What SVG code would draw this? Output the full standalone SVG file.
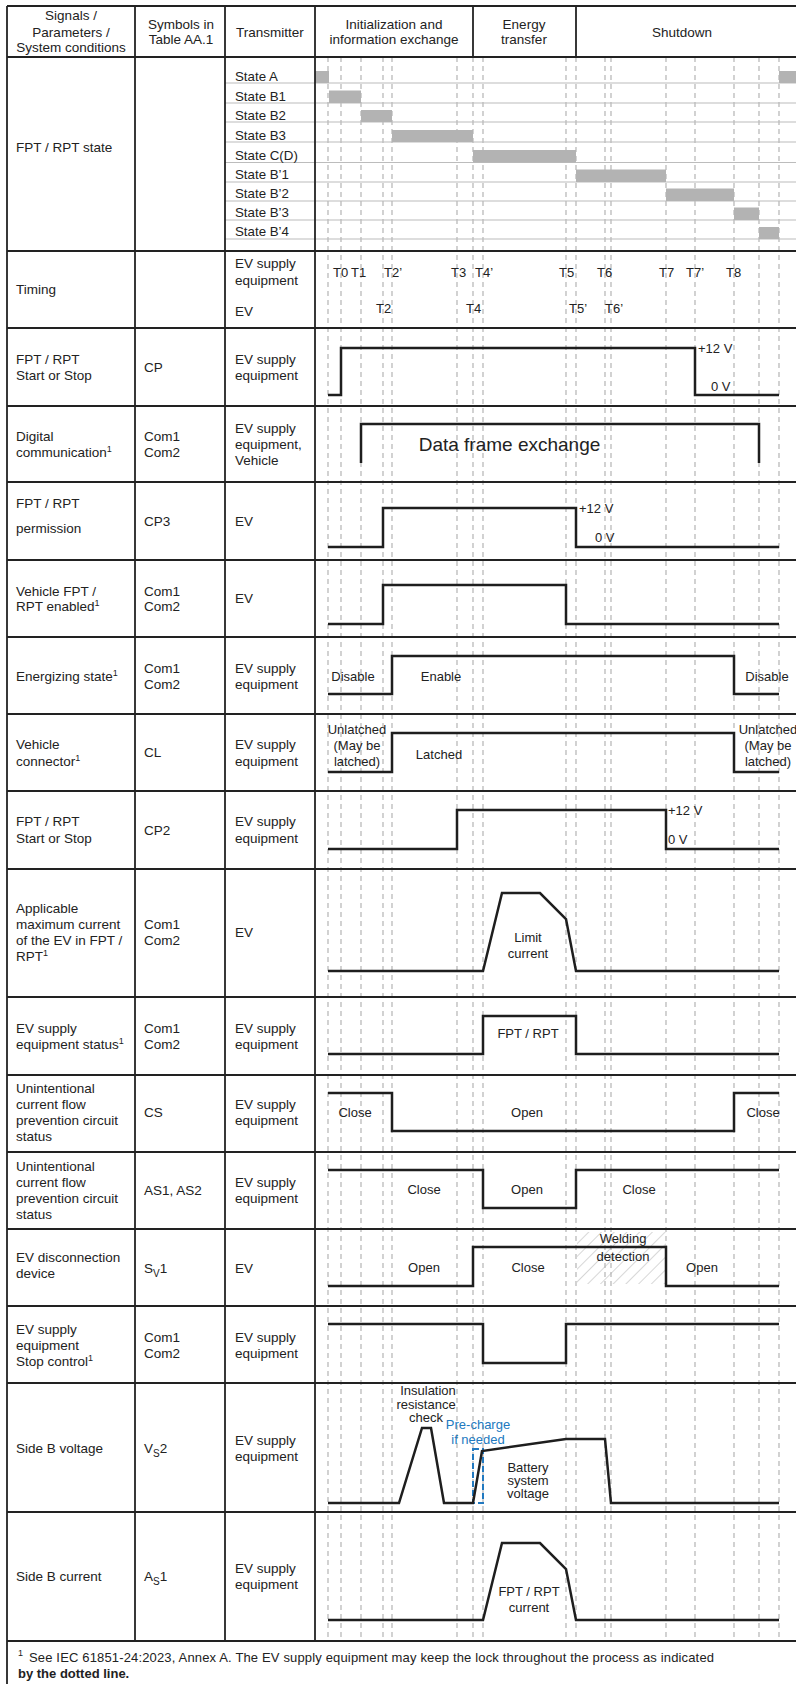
<svg xmlns="http://www.w3.org/2000/svg" width="796" height="1684" viewBox="0 0 796 1684">
<style>
.t{font-family:"Liberation Sans",Arial,sans-serif;font-size:13.5px;fill:#222}
.s{font-size:13.3px}
.m{font-size:13px}
.c{text-anchor:middle}
.grid{stroke:#222;stroke-width:1.8;fill:none}
.sub{stroke:#bcbcbc;stroke-width:1.2}
.dash{stroke:#adadad;stroke-width:1.1;stroke-dasharray:5 4}
.sig{stroke:#1e1e1e;stroke-width:2.5;fill:none;stroke-linejoin:miter}
.bar{fill:#b3b3b3}
.blue{fill:#2179c0}
</style>
<defs>
<pattern id="hatch" patternUnits="userSpaceOnUse" width="9" height="9" patternTransform="rotate(45)">
<line x1="0" y1="0" x2="0" y2="9" stroke="#b0b0b0" stroke-width="1"/>
</pattern>
</defs>
<rect width="796" height="1684" fill="#fff"/>

<!-- dashed time markers -->
<g id="time-markers" class="dash">
<line x1="328" y1="57" x2="328" y2="1641"/>
<line x1="341" y1="57" x2="341" y2="1641"/>
<line x1="361" y1="57" x2="361" y2="1641"/>
<line x1="383" y1="57" x2="383" y2="1641"/>
<line x1="392" y1="57" x2="392" y2="1641"/>
<line x1="457" y1="57" x2="457" y2="1641"/>
<line x1="473" y1="57" x2="473" y2="1641"/>
<line x1="483" y1="57" x2="483" y2="1641"/>
<line x1="566" y1="57" x2="566" y2="1641"/>
<line x1="576" y1="57" x2="576" y2="1641"/>
<line x1="605" y1="57" x2="605" y2="1641"/>
<line x1="611" y1="57" x2="611" y2="1641"/>
<line x1="666" y1="57" x2="666" y2="1641"/>
<line x1="695" y1="57" x2="695" y2="1641"/>
<line x1="734" y1="57" x2="734" y2="1641"/>
<line x1="759" y1="57" x2="759" y2="1641"/>
<line x1="779" y1="57" x2="779" y2="1641"/>
</g>

<!-- state sub rows -->
<g id="state-grid" class="sub">
<line x1="225" y1="83" x2="796" y2="83"/>
<line x1="225" y1="103" x2="796" y2="103"/>
<line x1="225" y1="122" x2="796" y2="122"/>
<line x1="225" y1="142" x2="796" y2="142"/>
<line x1="225" y1="162.5" x2="796" y2="162.5"/>
<line x1="225" y1="182" x2="796" y2="182"/>
<line x1="225" y1="201" x2="796" y2="201"/>
<line x1="225" y1="220" x2="796" y2="220"/>
<line x1="225" y1="239" x2="796" y2="239"/>
</g>
<g id="state-bars" class="bar">
<rect x="315" y="71" width="14" height="12"/>
<rect x="779" y="71" width="17" height="12"/>
<rect x="329" y="90.5" width="32" height="12.5"/>
<rect x="361" y="110" width="31" height="12"/>
<rect x="392" y="130" width="81" height="12"/>
<rect x="473" y="150" width="103" height="12.5"/>
<rect x="576" y="169.5" width="90" height="12.5"/>
<rect x="666" y="188.5" width="68" height="12.5"/>
<rect x="734" y="207.5" width="25" height="12.5"/>
<rect x="759" y="227" width="20" height="12"/>
</g>

<!-- table grid -->
<g id="table" class="grid">
<line x1="7" y1="6" x2="796" y2="6"/>
<line x1="7" y1="6" x2="7" y2="1684"/>
<line x1="135" y1="6" x2="135" y2="1641"/>
<line x1="225" y1="6" x2="225" y2="1641"/>
<line x1="315" y1="6" x2="315" y2="1641"/>
<line x1="473" y1="6" x2="473" y2="57"/>
<line x1="576" y1="6" x2="576" y2="57"/>
<line x1="7" y1="57" x2="796" y2="57"/>
<line x1="7" y1="251" x2="796" y2="251"/>
<line x1="7" y1="328" x2="796" y2="328"/>
<line x1="7" y1="406" x2="796" y2="406"/>
<line x1="7" y1="482" x2="796" y2="482"/>
<line x1="7" y1="560" x2="796" y2="560"/>
<line x1="7" y1="637" x2="796" y2="637"/>
<line x1="7" y1="714" x2="796" y2="714"/>
<line x1="7" y1="791" x2="796" y2="791"/>
<line x1="7" y1="869" x2="796" y2="869"/>
<line x1="7" y1="997" x2="796" y2="997"/>
<line x1="7" y1="1075" x2="796" y2="1075"/>
<line x1="7" y1="1152" x2="796" y2="1152"/>
<line x1="7" y1="1229" x2="796" y2="1229"/>
<line x1="7" y1="1306" x2="796" y2="1306"/>
<line x1="7" y1="1383" x2="796" y2="1383"/>
<line x1="7" y1="1512" x2="796" y2="1512"/>
<line x1="7" y1="1641" x2="796" y2="1641"/>
</g>

<!-- header -->
<g id="header" class="t">
<text class="c" x="71" y="20">Signals /</text>
<text class="c" x="71" y="36.5">Parameters /</text>
<text class="c" x="71" y="52">System conditions</text>
<text class="c" x="181" y="29">Symbols in</text>
<text class="c" x="181" y="44">Table AA.1</text>
<text class="c" x="270" y="36.5">Transmitter</text>
<text class="c" x="394" y="29">Initialization and</text>
<text class="c" x="394" y="44">information exchange</text>
<text class="c" x="524" y="29">Energy</text>
<text class="c" x="524" y="44">transfer</text>
<text class="c" x="682" y="37">Shutdown</text>
</g>

<!-- FPT/RPT state row -->
<g id="row-state" class="t">
<text x="16" y="152">FPT / RPT state</text>
<text class="s" x="235" y="81">State A</text>
<text class="s" x="235" y="100.5">State B1</text>
<text class="s" x="235" y="120">State B2</text>
<text class="s" x="235" y="140">State B3</text>
<text class="s" x="235" y="160">State C(D)</text>
<text class="s" x="235" y="179">State B’1</text>
<text class="s" x="235" y="198">State B’2</text>
<text class="s" x="235" y="216.5">State B’3</text>
<text class="s" x="235" y="235.5">State B’4</text>
</g>

<!-- Timing row -->
<g id="row-timing" class="t">
<text x="16" y="294">Timing</text>
<text x="235" y="268">EV supply</text>
<text x="235" y="285">equipment</text>
<text x="235" y="316">EV</text>
<g class="m">
<text x="333" y="277">T0</text>
<text x="351" y="277">T1</text>
<text x="384" y="277">T2’</text>
<text x="451" y="277">T3</text>
<text x="475" y="277">T4’</text>
<text x="559" y="277">T5</text>
<text x="597" y="277">T6</text>
<text x="659" y="277">T7</text>
<text x="686" y="277">T7’</text>
<text x="726" y="277">T8</text>
<text x="376" y="313">T2</text>
<text x="466" y="313">T4</text>
<text x="569" y="313">T5’</text>
<text x="605" y="313">T6’</text>
</g>
</g>

<!-- CP -->
<g id="row-cp" class="t">
<text x="16" y="364">FPT / RPT</text>
<text x="16" y="380">Start or Stop</text>
<text x="144" y="372">CP</text>
<text x="235" y="364">EV supply</text>
<text x="235" y="380">equipment</text>
<text class="m" x="698" y="353">+12 V</text>
<text class="m" x="711" y="391">0 V</text>
</g>

<!-- Digital communication -->
<g id="row-digital" class="t">
<text x="16" y="441">Digital</text>
<text x="16" y="457">communication<tspan font-size="9" dy="-5">1</tspan></text>
<text x="144" y="441">Com1</text>
<text x="144" y="457">Com2</text>
<text x="235" y="433">EV supply</text>
<text x="235" y="449">equipment,</text>
<text x="235" y="465">Vehicle</text>
<text class="c" x="509.5" y="451" font-size="19">Data frame exchange</text>
</g>

<!-- CP3 -->
<g id="row-cp3" class="t">
<text x="16" y="508">FPT / RPT</text>
<text x="16" y="533">permission</text>
<text x="144" y="526">CP3</text>
<text x="235" y="526">EV</text>
<text class="m" x="579" y="513">+12 V</text>
<text class="m" x="595" y="542">0 V</text>
</g>

<!-- Vehicle enabled -->
<g id="row-enabled" class="t">
<text x="16" y="596">Vehicle FPT /</text>
<text x="16" y="611">RPT enabled<tspan font-size="9" dy="-5">1</tspan></text>
<text x="144" y="596">Com1</text>
<text x="144" y="611">Com2</text>
<text x="235" y="603">EV</text>
</g>

<!-- Energizing -->
<g id="row-energizing" class="t">
<text x="16" y="681">Energizing state<tspan font-size="9" dy="-5">1</tspan></text>
<text x="144" y="673">Com1</text>
<text x="144" y="689">Com2</text>
<text x="235" y="673">EV supply</text>
<text x="235" y="689">equipment</text>
<text class="c m" x="353" y="681">Disable</text>
<text class="c m" x="441" y="681">Enable</text>
<text class="c m" x="767" y="681">Disable</text>
</g>

<!-- Vehicle connector -->
<g id="row-connector" class="t">
<text x="16" y="749">Vehicle</text>
<text x="16" y="766">connector<tspan font-size="9" dy="-5">1</tspan></text>
<text x="144" y="757">CL</text>
<text x="235" y="749">EV supply</text>
<text x="235" y="766">equipment</text>
<text class="c m" x="357" y="734">Unlatched</text>
<text class="c m" x="357" y="750">(May be</text>
<text class="c m" x="357" y="766">latched)</text>
<text class="c m" x="439" y="759">Latched</text>
<text class="c m" x="768" y="734">Unlatched</text>
<text class="c m" x="768" y="750">(May be</text>
<text class="c m" x="768" y="766">latched)</text>
</g>

<!-- CP2 -->
<g id="row-cp2" class="t">
<text x="16" y="826">FPT / RPT</text>
<text x="16" y="843">Start or Stop</text>
<text x="144" y="835">CP2</text>
<text x="235" y="826">EV supply</text>
<text x="235" y="843">equipment</text>
<text class="m" x="668" y="815">+12 V</text>
<text class="m" x="668" y="844">0 V</text>
</g>

<!-- Applicable maximum current -->
<g id="row-maxcurrent" class="t">
<text x="16" y="913">Applicable</text>
<text x="16" y="929">maximum current</text>
<text x="16" y="945">of the EV in FPT /</text>
<text x="16" y="961">RPT<tspan font-size="9" dy="-5">1</tspan></text>
<text x="144" y="929">Com1</text>
<text x="144" y="945">Com2</text>
<text x="235" y="937">EV</text>
<text class="c m" x="528" y="942">Limit</text>
<text class="c m" x="528" y="958">current</text>
</g>

<!-- EVSE status -->
<g id="row-status" class="t">
<text x="16" y="1033">EV supply</text>
<text x="16" y="1049">equipment status<tspan font-size="9" dy="-5">1</tspan></text>
<text x="144" y="1033">Com1</text>
<text x="144" y="1049">Com2</text>
<text x="235" y="1033">EV supply</text>
<text x="235" y="1049">equipment</text>
<text class="c m" x="528" y="1038">FPT / RPT</text>
</g>

<!-- CS -->
<g id="row-cs" class="t">
<text x="16" y="1093">Unintentional</text>
<text x="16" y="1109">current flow</text>
<text x="16" y="1125">prevention circuit</text>
<text x="16" y="1141">status</text>
<text x="144" y="1117">CS</text>
<text x="235" y="1109">EV supply</text>
<text x="235" y="1125">equipment</text>
<text class="c m" x="355" y="1117">Close</text>
<text class="c m" x="527" y="1117">Open</text>
<text class="c m" x="763" y="1117">Close</text>
</g>

<!-- AS1, AS2 -->
<g id="row-as" class="t">
<text x="16" y="1171">Unintentional</text>
<text x="16" y="1187">current flow</text>
<text x="16" y="1203">prevention circuit</text>
<text x="16" y="1219">status</text>
<text x="144" y="1195">AS1, AS2</text>
<text x="235" y="1187">EV supply</text>
<text x="235" y="1203">equipment</text>
<text class="c m" x="424" y="1194">Close</text>
<text class="c m" x="527" y="1194">Open</text>
<text class="c m" x="639" y="1194">Close</text>
</g>

<!-- EV disconnection device -->
<g id="row-sv1" class="t">
<rect x="577" y="1232" width="89" height="52" fill="url(#hatch)"/>
<text x="16" y="1262">EV disconnection</text>
<text x="16" y="1278">device</text>
<text x="144" y="1273">S<tspan font-size="10" dy="4">V</tspan><tspan dy="-4">1</tspan></text>
<text x="235" y="1273">EV</text>
<text class="c m" x="623" y="1243">Welding</text>
<text class="c m" x="623" y="1261">detection</text>
<text class="c m" x="424" y="1272">Open</text>
<text class="c m" x="528" y="1272">Close</text>
<text class="c m" x="702" y="1272">Open</text>
</g>

<!-- Stop control -->
<g id="row-stop" class="t">
<text x="16" y="1334">EV supply</text>
<text x="16" y="1350">equipment</text>
<text x="16" y="1366">Stop control<tspan font-size="9" dy="-5">1</tspan></text>
<text x="144" y="1342">Com1</text>
<text x="144" y="1358">Com2</text>
<text x="235" y="1342">EV supply</text>
<text x="235" y="1358">equipment</text>
</g>

<!-- Side B voltage -->
<g id="row-vs2" class="t">
<text x="16" y="1453">Side B voltage</text>
<text x="144" y="1453">V<tspan font-size="10" dy="4">S</tspan><tspan dy="-4">2</tspan></text>
<text x="235" y="1445">EV supply</text>
<text x="235" y="1461">equipment</text>
<text class="c m" x="428" y="1395">Insulation</text>
<text class="c m" x="426" y="1409">resistance</text>
<text class="c m" x="426" y="1422">check</text>
<text class="c m blue" x="478" y="1429">Pre-charge</text>
<text class="c m blue" x="478" y="1444">if needed</text>
<rect x="473" y="1449" width="10" height="54" fill="none" stroke="#2179c0" stroke-width="2" stroke-dasharray="6 3"/>
<text class="c m" x="528" y="1472">Battery</text>
<text class="c m" x="528" y="1485">system</text>
<text class="c m" x="528" y="1498">voltage</text>
</g>

<!-- Side B current -->
<g id="row-as1" class="t">
<text x="16" y="1581">Side B current</text>
<text x="144" y="1581">A<tspan font-size="10" dy="4">S</tspan><tspan dy="-4">1</tspan></text>
<text x="235" y="1573">EV supply</text>
<text x="235" y="1589">equipment</text>
<text class="c m" x="529" y="1596">FPT / RPT</text>
<text class="c m" x="529" y="1612">current</text>
</g>

<!-- signal waveforms -->
<g id="connectors" class="sig">
<polyline points="328,395 341,395 341,348 695,348 695,395 779,395"/>
<polyline points="361,463 361,424 759,424 759,463"/>
<polyline points="328,547 383,547 383,508 576,508 576,547 779,547"/>
<polyline points="328,624 383,624 383,585 566,585 566,624 779,624"/>
<polyline points="328,694 392,694 392,656 734,656 734,694 779,694"/>
<polyline points="328,772 392,772 392,733 734,733 734,772 779,772"/>
<polyline points="328,849 457,849 457,810 666,810 666,849 779,849"/>
<polyline points="328,971 483,971 502,893 540,893 566,919 576,971 779,971"/>
<polyline points="328,1054 483,1054 483,1016 576,1016 576,1054 779,1054"/>
<polyline points="328,1093 392,1093 392,1131 734,1131 734,1093 779,1093"/>
<polyline points="328,1170 483,1170 483,1208 576,1208 576,1170 779,1170"/>
<polyline points="328,1286 473,1286 473,1247 666,1247 666,1286 779,1286"/>
<polyline points="328,1324 483,1324 483,1363 566,1363 566,1324 779,1324"/>
<polyline points="328,1503 399,1503 422,1428 431,1428 444,1503 473,1503 482,1451 566,1439 605,1439 611,1503 779,1503"/>
<polyline points="328,1620 483,1620 502,1543 540,1543 566,1569 576,1620 779,1620"/>
</g>

<!-- footnote -->
<g id="footnote" class="t">
<text x="18" y="1656" font-size="9">1</text>
<text x="29" y="1662" font-size="13" textLength="685" lengthAdjust="spacing">See IEC 61851-24:2023, Annex A. The EV supply equipment may keep the lock throughout the process as indicated</text>
<text x="18" y="1678" font-size="13" font-weight="bold">by the dotted line.</text>
</g>
</svg>
